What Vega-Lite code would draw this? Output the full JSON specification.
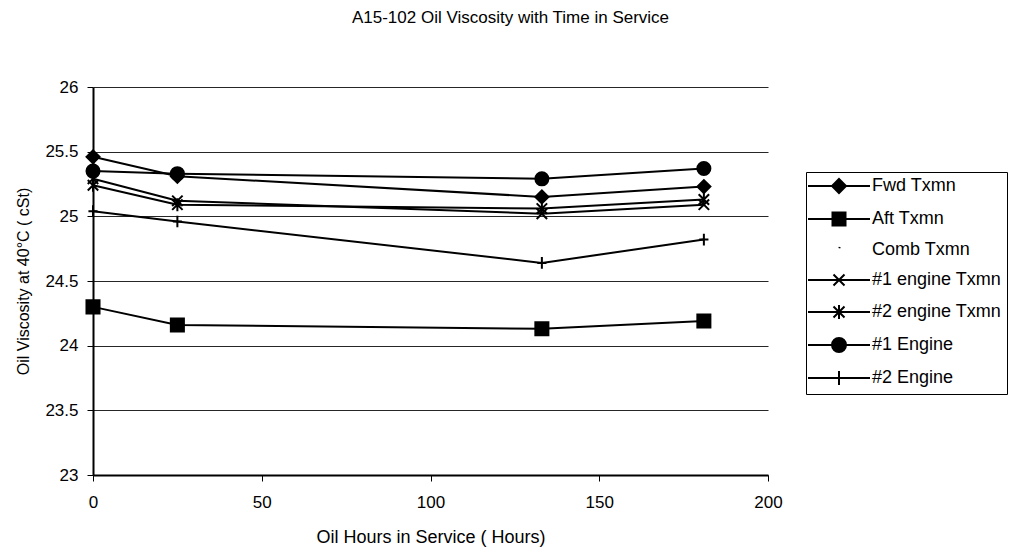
{
  "$schema": "https://vega.github.io/schema/vega-lite/v6.json",
  "width": 675,
  "height": 388,
  "autosize": "none",
  "padding": {"left": 93, "top": 87, "right": 243, "bottom": 78},
  "background": "white",
  "config": {
    "font": "Liberation Sans",
    "view": {"stroke": null},
    "axis": {"labelColor": "black", "titleColor": "black", "labelFont": "Liberation Sans", "titleFont": "Liberation Sans", "titleFontWeight": "normal"}
  },
  "title": {
    "text": "A15-102 Oil Viscosity with Time in Service",
    "fontSize": 17,
    "fontWeight": "normal",
    "font": "Liberation Sans",
    "color": "black",
    "anchor": "middle",
    "offset": 51,
    "dx": 80
  },
  "data": {
    "values": [
      {"h": 0, "v": 25.46, "s": "Fwd Txmn"},
      {"h": 25, "v": 25.31, "s": "Fwd Txmn"},
      {"h": 133, "v": 25.15, "s": "Fwd Txmn"},
      {"h": 181, "v": 25.23, "s": "Fwd Txmn"},
      {"h": 0, "v": 24.30, "s": "Aft Txmn"},
      {"h": 25, "v": 24.16, "s": "Aft Txmn"},
      {"h": 133, "v": 24.13, "s": "Aft Txmn"},
      {"h": 181, "v": 24.19, "s": "Aft Txmn"},
      {"h": 0, "v": 25.29, "s": "#1 engine Txmn"},
      {"h": 25, "v": 25.12, "s": "#1 engine Txmn"},
      {"h": 133, "v": 25.02, "s": "#1 engine Txmn"},
      {"h": 181, "v": 25.09, "s": "#1 engine Txmn"},
      {"h": 0, "v": 25.24, "s": "#2 engine Txmn"},
      {"h": 25, "v": 25.09, "s": "#2 engine Txmn"},
      {"h": 133, "v": 25.06, "s": "#2 engine Txmn"},
      {"h": 181, "v": 25.13, "s": "#2 engine Txmn"},
      {"h": 0, "v": 25.35, "s": "#1 Engine"},
      {"h": 25, "v": 25.33, "s": "#1 Engine"},
      {"h": 133, "v": 25.29, "s": "#1 Engine"},
      {"h": 181, "v": 25.37, "s": "#1 Engine"},
      {"h": 0, "v": 25.04, "s": "#2 Engine"},
      {"h": 25, "v": 24.96, "s": "#2 Engine"},
      {"h": 133, "v": 24.64, "s": "#2 Engine"},
      {"h": 181, "v": 24.82, "s": "#2 Engine"}
    ]
  },
  "encoding": {
    "x": {
      "field": "h", "type": "quantitative",
      "scale": {"domain": [0, 200], "nice": false},
      "axis": {
        "title": "Oil Hours in Service ( Hours)",
        "titleFontSize": 18, "titlePadding": 18,
        "values": [0, 50, 100, 150, 200],
        "labelFontSize": 17, "labelPadding": 13, "labelFlush": false,
        "grid": false,
        "domainColor": "black", "domainWidth": 2,
        "tickColor": "black", "tickSize": 6, "tickWidth": 1
      }
    },
    "y": {
      "field": "v", "type": "quantitative",
      "scale": {"domain": [23, 26], "nice": false, "zero": false},
      "axis": {
        "title": "Oil Viscosity at 40°C ( cSt)",
        "titleFontSize": 16, "titlePadding": 13,
        "values": [23, 23.5, 24, 24.5, 25, 25.5, 26],
        "format": "~g",
        "labelFontSize": 17, "labelPadding": 9, "labelFlush": false,
        "grid": true, "gridColor": "black", "gridWidth": 1, "gridOpacity": 0.85,
        "domainColor": "black", "domainWidth": 2,
        "tickColor": "black", "tickSize": 6, "tickWidth": 1
      }
    }
  },
  "layer": [
    {
      "mark": {"type": "line", "color": "black", "strokeWidth": 2},
      "encoding": {"detail": {"field": "s"}, "order": {"field": "h"}}
    },
    {
      "mark": {"type": "point", "filled": true, "fill": "black", "stroke": "black", "strokeWidth": 2, "opacity": 1, "size": 170},
      "encoding": {
        "shape": {
          "field": "s", "type": "nominal",
          "scale": {
            "domain": ["Fwd Txmn", "Aft Txmn", "Comb Txmn", "#1 engine Txmn", "#2 engine Txmn", "#1 Engine", "#2 Engine"],
            "range": ["diamond", "square", "circle", "M-0.8,-0.8L0.8,0.8M-0.8,0.8L0.8,-0.8", "M-0.8,-0.8L0.8,0.8M-0.8,0.8L0.8,-0.8M0,-1L0,1", "circle", "M0,-0.9L0,0.9M-0.7,0L0.7,0"]
          },
          "legend": null
        }
      }
    },
    {
      "mark": {"type": "point", "filled": false, "color": "black", "strokeWidth": 2, "opacity": 0},
      "encoding": {
        "shape": {
          "field": "s", "type": "nominal",
          "scale": {
            "domain": ["Fwd Txmn", "Aft Txmn", "Comb Txmn", "#1 engine Txmn", "#2 engine Txmn", "#1 Engine", "#2 Engine"],
            "range": [
              "M-6.2,0H6.2M0,-1.4L1.4,0L0,1.4L-1.4,0ZM-0.2,-1.2H0.2M-0.5,-0.9H0.5M-0.8,-0.6H0.8M-1.1,-0.3H1.1M-1.1,0.3H1.1M-0.8,0.6H0.8M-0.5,0.9H0.5M-0.2,1.2H0.2",
              "M-6.2,0H6.2M-1.3,-1.3H1.3V1.3H-1.3ZM-1.3,-1H1.3M-1.3,-0.7H1.3M-1.3,-0.4H1.3M-1.3,-0.1H1.3M-1.3,0.2H1.3M-1.3,0.5H1.3M-1.3,0.8H1.3M-1.3,1.1H1.3",
              "M0.15,-0.6L0.05,-0.35",
              "M-6.2,0H6.2M-1.1,-1.1L1.1,1.1M-1.1,1.1L1.1,-1.1",
              "M-6.2,0H6.2M-1.1,-1.1L1.1,1.1M-1.1,1.1L1.1,-1.1M0,-1.4V1.4",
              "M-6.2,0H6.2M-1.4,0A1.4,1.4,0,1,0,1.4,0A1.4,1.4,0,1,0,-1.4,0ZM-0.72,-1.2H0.72M-1.07,-0.9H1.07M-1.26,-0.6H1.26M-1.37,-0.3H1.37M-1.37,0.3H1.37M-1.26,0.6H1.26M-1.07,0.9H1.07M-0.72,1.2H0.72",
              "M-6.2,0H6.2M0,-1.4V1.4"
            ]
          },
          "legend": {
            "title": null,
            "orient": "none",
            "legendX": 713,
            "legendY": 85,
            "padding": 5,
            "strokeColor": "black",
            "fillColor": "white",
            "labelFont": "Liberation Sans",
            "labelFontSize": 18,
            "labelColor": "black",
            "symbolSize": 100,
            "symbolOpacity": 1,
            "symbolStrokeWidth": 2,
            "symbolStrokeColor": "black",
            "symbolFillColor": "black",
            "symbolOffset": 19,
            "labelOffset": 24,
            "rowPadding": 11
          }
        }
      }
    }
  ],
  "resolve": {"scale": {"shape": "independent"}, "legend": {"shape": "independent"}}
}
